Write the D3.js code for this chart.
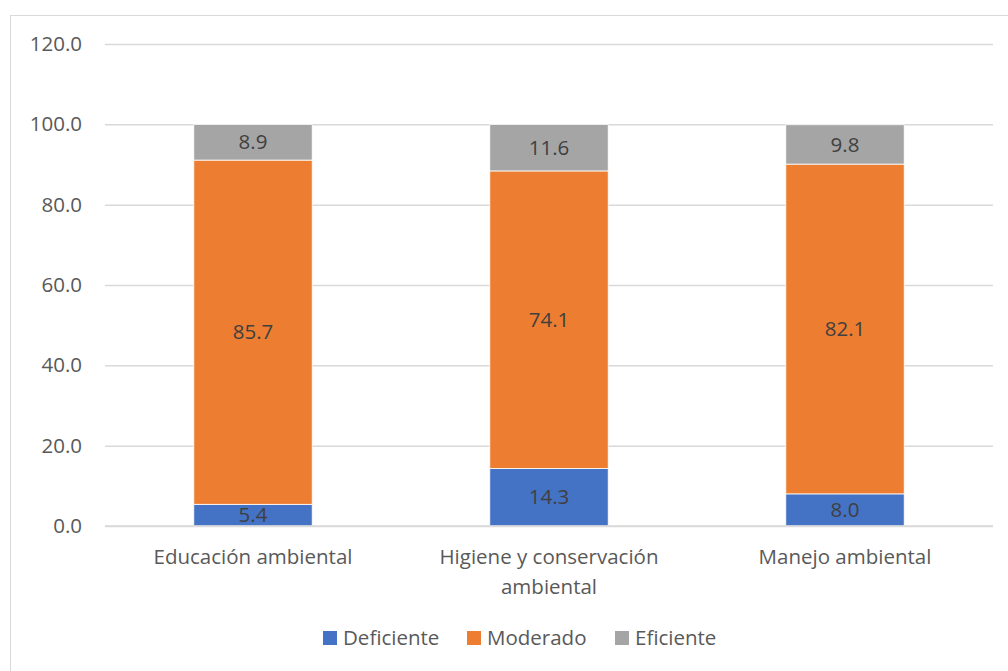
<!DOCTYPE html>
<html>
<head>
<meta charset="utf-8">
<script src="https://cdn.jsdelivr.net/npm/d3@7"></script>
<style>
  body { margin: 0; background: #fff; }
  svg text { font-family: "Open Sans", "Liberation Sans", sans-serif; }
</style>
</head>
<body>
<div id="chart"></div>
<script>
// Categorías y series
const categories = ["Educación ambiental", "Higiene y conservación ambiental", "Manejo ambiental"];
const deficiente = [5.4, 14.3, 8.0];
const moderado = [85.7, 74.1, 82.1];
const eficiente = [8.9, 11.6, 9.8];
const yTicks = [0, 20, 40, 60, 80, 100, 120];

const seriesNames = ["Deficiente", "Moderado", "Eficiente"];
const seriesColors = ["#4472C4", "#ED7D31", "#A5A5A5"];

function drawGraphic() {
    const width = 1008, height = 671;
    const margin = { top: 44, right: 15, bottom: 145, left: 105 };
    const innerW = width - margin.left - margin.right;
    const innerH = height - margin.top - margin.bottom;
    const fontSize = "20.5px";

    const svg = d3.select("#chart").append("svg")
        .attr("width", width)
        .attr("height", height);

    // Marco del área del gráfico
    svg.append("rect")
        .attr("x", 10.5).attr("y", 15.5)
        .attr("width", 1010).attr("height", 680)
        .attr("fill", "none")
        .attr("stroke", "#d9d9d9");

    const g = svg.append("g")
        .attr("transform", `translate(${margin.left},${margin.top})`);

    const x = d3.scaleBand().domain(categories).range([0, innerW])
        .paddingInner(0.6).paddingOuter(0.3);
    const y = d3.scaleLinear().domain([0, 120]).range([innerH, 0]);

    // Líneas de la cuadrícula
    g.append("g")
        .call(d3.axisLeft(y).tickValues(yTicks).tickSize(-innerW).tickFormat(""))
        .call(s => s.select(".domain").remove())
        .call(s => s.selectAll("line").attr("stroke", "#d9d9d9").attr("stroke-width", 1.5));

    // Etiquetas del eje Y
    g.append("g")
        .call(d3.axisLeft(y).tickValues(yTicks).tickSize(0).tickPadding(23).tickFormat(d3.format(".1f")))
        .call(s => s.select(".domain").remove())
        .call(s => s.selectAll("text").attr("fill", "#595959").style("font-size", fontSize));

    // Apilado de las series
    const rows = categories.map((c, i) => ({
        cat: c, Deficiente: deficiente[i], Moderado: moderado[i], Eficiente: eficiente[i]
    }));
    const stack = d3.stack().keys(seriesNames)(rows);

    const layers = g.selectAll(".layer").data(stack).join("g")
        .attr("class", "layer")
        .attr("fill", (d, i) => seriesColors[i]);

    layers.selectAll("rect").data(d => d).join("rect")
        .attr("x", d => x(d.data.cat))
        .attr("width", x.bandwidth())
        .attr("y", d => y(d[1]))
        .attr("height", d => y(d[0]) - y(d[1]))
        .attr("stroke", "#fff")
        .attr("stroke-width", 0.8);

    // Etiquetas de datos
    layers.each(function (layer) {
        d3.select(this).selectAll("text").data(layer).join("text")
            .attr("x", d => x(d.data.cat) + x.bandwidth() / 2)
            .attr("y", d => (y(d[0]) + y(d[1])) / 2)
            .attr("dy", "0.35em")
            .attr("text-anchor", "middle")
            .attr("fill", "#404040")
            .style("font-size", fontSize)
            .text(d => d3.format(".1f")(d.data[layer.key]));
    });

    // Eje X (línea base y etiquetas de categorías)
    g.append("line")
        .attr("x1", 0).attr("x2", innerW)
        .attr("y1", innerH).attr("y2", innerH)
        .attr("stroke", "#d9d9d9").attr("stroke-width", 1.5);

    const xLabels = [["Educación ambiental"], ["Higiene y conservación", "ambiental"], ["Manejo ambiental"]];
    categories.forEach((c, i) => {
        const t = g.append("text")
            .attr("x", x(c) + x.bandwidth() / 2)
            .attr("y", innerH + 38)
            .attr("text-anchor", "middle")
            .attr("fill", "#595959")
            .style("font-size", fontSize);
        xLabels[i].forEach((line, j) => {
            t.append("tspan")
                .attr("x", x(c) + x.bandwidth() / 2)
                .attr("dy", j === 0 ? 0 : 30)
                .text(line);
        });
    });

    // Leyenda
    const legendX = [323, 467, 615];
    const legend = svg.append("g").attr("transform", "translate(0,638)");
    seriesNames.forEach((name, i) => {
        legend.append("rect")
            .attr("x", legendX[i]).attr("y", -7)
            .attr("width", 14).attr("height", 14)
            .attr("fill", seriesColors[i]);
        legend.append("text")
            .attr("x", legendX[i] + 20).attr("y", 0)
            .attr("dy", "0.35em")
            .attr("fill", "#595959")
            .style("font-size", fontSize)
            .text(name);
    });
}

drawGraphic();
</script>
</body>
</html>
